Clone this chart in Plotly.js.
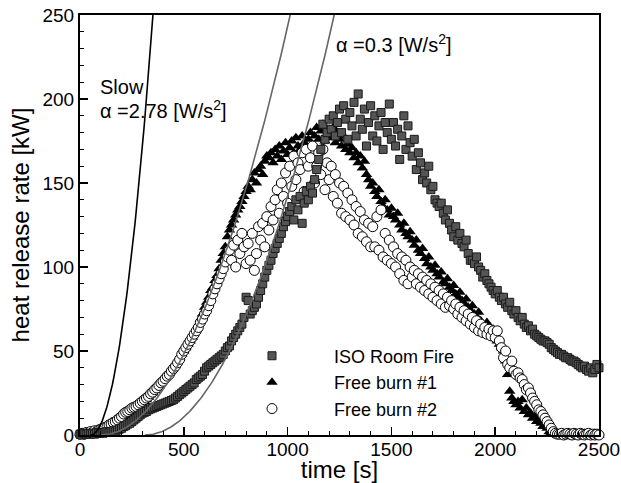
<!DOCTYPE html>
<html>
<head>
<meta charset="utf-8">
<script src="https://cdn.plot.ly/plotly-3.0.1.min.js"></script>
<style>html,body{margin:0;padding:0;background:#fff;}#chart{width:621px;height:483px;}</style>
</head>
<body>
<div id="chart"></div>
<script>
// ---- Data (time in s, heat release rate in kW) ----
var sampleTime = [0,10,20,30,40,50,60,70,80,90,100,110,120,130,140,150,160,170,180,190,200,210,220,230,240,250,260,270,280,290,300,310,320,330,340,350,360,370,380,390,400,410,420,430,440,450,460,470,480,490,500,510,520,530,540,550,560,570,580,590,600,610,620,630,640,650,660,670,680,690,700,710,720,730,740,750,760,770,780,790,800,810,820,830,840,850,860,870,880,890,900,910,920,930,940,950,960,970,980,990,1000,1010,1020,1030,1040,1050,1060,1070,1080,1090,1100,1110,1120,1130,1140,1150,1160,1170,1180,1190,1200,1210,1220,1230,1240,1250,1260,1270,1280,1290,1300,1310,1320,1330,1340,1350,1360,1370,1380,1390,1400,1410,1420,1430,1440,1450,1460,1470,1480,1490,1500,1510,1520,1530,1540,1550,1560,1570,1580,1590,1600,1610,1620,1630,1640,1650,1660,1670,1680,1690,1700,1710,1720,1730,1740,1750,1760,1770,1780,1790,1800,1810,1820,1830,1840,1850,1860,1870,1880,1890,1900,1910,1920,1930,1940,1950,1960,1970,1980,1990,2000,2010,2020,2030,2040,2050,2060,2070,2080,2090,2100,2110,2120,2130,2140,2150,2160,2170,2180,2190,2200,2210,2220,2230,2240,2250,2260,2270,2280,2290,2300,2310,2320,2330,2340,2350,2360,2370,2380,2390,2400,2410,2420,2430,2440,2450,2460,2470,2480,2490,2500];

var isoHRR = [0.5,0,1,0.5,1,0.5,1,0.5,1.5,1,1.5,
  1,1.5,2,1.5,2,2.5,2,3,3.5,4,
  5,5.5,6.5,7,8,9,10,11,12,13,
  13.5,14,15,15.5,16,16.5,17,17.5,18,18.5,
  19,19.5,20,20.5,21,22,23,24,25,26,
  27,28,29,30,31,33,34,35,36,38,
  40,41,42,43,44,45,46,47,48,50,
  52,53,56,58,60,62,64,66,70,82,
  80,72,74,76,78,82,86,90,94,98,
  101,104,108,111,114,117,120,124,127,130,
  133,136,128,140,134,142,126,138,145,140,
  148,144,152,158,164,170,185,176,180,188,
  182,190,178,186,194,180,196,188,176,192,
  184,198,178,203,188,182,194,172,186,196,
  178,190,175,184,192,170,186,180,197,176,
  186,172,182,164,178,190,170,184,174,166,
  176,158,168,162,152,156,150,160,146,148,
  140,138,136,138,132,128,134,126,122,118,
  124,116,120,114,112,116,108,104,104,102,
  106,100,98,94,96,92,90,88,86,84,
  86,82,80,82,78,76,79,74,72,74,
  70,68,70,66,64,65,62,63,60,59,
  58,57,56,56,55,54,52,51,50,49,
  48,48,47,46,46,45,44,44,43,42,
  41,40,41,39,38,40,37,39,42,40];

var fb1HRR = [1,0.5,1,1.5,1,2,1.5,2,2.5,2,3,
  3,3.5,4,4,5,5.5,6,7,7.5,8.5,
  9.5,10,11,12,13,14,15,16,17.5,19,
  20,21,22.5,24,25,26.5,28,29,31,32.5,
  34,35.5,37,39,41,42.5,44,46,48,50,
  52,54,56,58,61,63,66,69,72,76,
  79,82,86,88,92,95,99,104,108,112,
  118,122,125,128,131,134,136,139,142,145,
  148,146,152,156,150,158,160,155,163,166,
  165,168,162,170,166,172,164,169,174,167,
  171,175,168,177,172,170,178,174,169,176,
  180,173,178,183,176,181,185,175,179,182,
  177,183,174,180,176,172,178,170,173,168,
  171,165,168,162,166,159,163,155,152,148,
  150,145,142,146,139,136,140,134,131,135,
  130,128,132,125,122,126,120,118,121,116,
  113,116,110,108,111,105,102,106,100,98,
  101,96,94,97,91,90,93,88,86,89,
  84,82,85,80,78,81,76,74,77,72,
  70,73,68,66,64,67,62,60,63,58,
  56,54,52,50,44,36,26,22,20,18,
  20,16,21,14,16,12,13,10,11,8,
  9,7,5,6,4,2,1.5,1,0.5,0.5,
  0.5,0,1,0.5,0,0.5,1,0,0.5,0,
  0.5,0,1,0.5,0,0.5,0,1,0.5,0];

var fb2HRR = [0.5,1,0.5,1.5,1,2,1.5,2.5,2,3,3.5,
  4,4.5,5,6,6.5,7.5,8,9,10,11,
  12.5,13.5,14,15,16,16.5,17,18,19,20,
  21,22,23,24.5,25.5,27,28,29.5,31,32,
  33.5,35,36,38,39.5,41,43,45,48,50,
  52,54,56,58,60,62,64,67,69,72,
  74,77,80,84,87,90,93,96,99,103,
  106,110,104,113,100,116,108,120,112,102,
  114,104,120,98,108,124,116,126,112,130,
  122,136,128,140,146,132,150,142,156,138,
  160,148,166,152,162,158,168,145,170,160,
  165,172,150,160,168,155,170,146,162,152,
  160,142,155,138,150,132,148,130,144,128,
  140,125,136,120,133,118,128,115,126,112,
  124,112,130,110,134,106,120,104,116,102,
  112,100,108,96,106,92,104,90,100,94,
  98,90,96,88,94,86,92,84,90,82,
  88,80,86,78,84,76,82,77,80,75,
  78,72,76,70,74,68,72,66,70,64,
  68,62,66,61,64,60,63,59,62,58,
  62,56,52,46,50,42,40,44,38,36,
  37,34,33,30,27,28,25,22,20,18,
  15,14,12,10,8,6,4,2,1,0.5,
  0.5,1,0,0.5,1,0.5,0,1,0.5,0,
  1,0.5,0,0.5,1,0,0.5,0,0.5,0];

// t-squared design fire curves: Q = alpha * (t - t0)^2  [kW]
var curveNames = ["Slow", "alpha 0.3 (a)", "alpha 0.3 (b)"];
var curveAlpha = [0.00278, 0.0003, 0.0003];   // kW/s^2
var curveStart = [52, 100, 312];              // s
var curveColor = ["#000000", "#666666", "#666666"];

// ---- build traces ----
var FONT = "Arial, 'Liberation Sans', sans-serif";
var traces = [];

traces.push({
  x: sampleTime, y: fb1HRR, type: "scatter", mode: "markers", name: "Free burn #1",
  legendrank: 2, cliponaxis: false,
  marker: {symbol: "triangle-up", size: 10, color: "#000000", line: {width: 0}}
});
traces.push({
  x: sampleTime, y: fb2HRR, type: "scatter", mode: "markers", name: "Free burn #2",
  legendrank: 3, cliponaxis: false,
  marker: {symbol: "circle", size: 10, color: "#ffffff", line: {width: 1, color: "#000000"}}
});
traces.push({
  x: sampleTime, y: isoHRR, type: "scatter", mode: "markers", name: "ISO Room Fire",
  legendrank: 1, cliponaxis: false,
  marker: {symbol: "square", size: 8, color: "#555555", line: {width: 1, color: "#1a1a1a"}}
});

for (var c = 0; c < curveAlpha.length; c++) {
  var cx = [], cy = [];
  for (var t = curveStart[c]; t <= 2500; t += 4) {
    var q = curveAlpha[c] * Math.pow(t - curveStart[c], 2);
    cx.push(t); cy.push(q);
    if (q > 260) break;
  }
  traces.push({
    x: cx, y: cy, type: "scatter", mode: "lines", name: curveNames[c],
    showlegend: false, hoverinfo: "skip",
    line: {color: curveColor[c], width: 1.6}
  });
}

var layout = {
  width: 621, height: 483,
  margin: {l: 80, r: 22, t: 15, b: 48},
  paper_bgcolor: "#ffffff", plot_bgcolor: "#ffffff",
  font: {family: FONT, color: "#000000", size: 19},
  showlegend: true,
  legend: {
    x: 0.2505, y: 0.232, xanchor: "left", yanchor: "top",
    bgcolor: "rgba(0,0,0,0)", borderwidth: 0,
    font: {family: FONT, size: 18, color: "#000000"},
    itemwidth: 114, tracegroupgap: 0
  },
  xaxis: {
    range: [0, 2500], dtick: 500, tick0: 0,
    showgrid: false, zeroline: false,
    showline: true, linewidth: 2, linecolor: "#000000", mirror: true,
    ticks: "inside", ticklen: 8, tickwidth: 1.5, tickcolor: "#000000",
    minor: {dtick: 100, ticks: "inside", ticklen: 4, tickwidth: 1, tickcolor: "#000000", showgrid: false},
    tickfont: {family: FONT, size: 19, color: "#000000"},
    ticklabelstandoff: -4,
    title: {text: "time [s]", font: {family: FONT, size: 24, color: "#000000"}, standoff: 0}
  },
  yaxis: {
    range: [0, 250], dtick: 50, tick0: 0,
    showgrid: false, zeroline: false,
    showline: true, linewidth: 2, linecolor: "#000000", mirror: true,
    ticks: "inside", ticklen: 8, tickwidth: 1.5, tickcolor: "#000000",
    minor: {dtick: 10, ticks: "inside", ticklen: 4, tickwidth: 1, tickcolor: "#000000", showgrid: false},
    tickfont: {family: FONT, size: 19, color: "#000000"},
    title: {text: "heat release rate [kW]", font: {family: FONT, size: 24, color: "#000000"}, standoff: 6}
  },
  annotations: [
    {x: 85, y: 207, xref: "x", yref: "y", xanchor: "left", yanchor: "middle", showarrow: false,
     text: "Slow", font: {family: FONT, size: 20, color: "#000000"}},
    {x: 85, y: 194, xref: "x", yref: "y", xanchor: "left", yanchor: "middle", showarrow: false,
     text: "α =2.78 [W/s<sup>2</sup>]", font: {family: FONT, size: 20, color: "#000000"}},
    {x: 1225, y: 233, xref: "x", yref: "y", xanchor: "left", yanchor: "middle", showarrow: false,
     text: "α =0.3 [W/s<sup>2</sup>]", font: {family: FONT, size: 20, color: "#000000"}}
  ]
};

Plotly.newPlot("chart", traces, layout, {staticPlot: true, displayModeBar: false});
</script>
</body>
</html>
